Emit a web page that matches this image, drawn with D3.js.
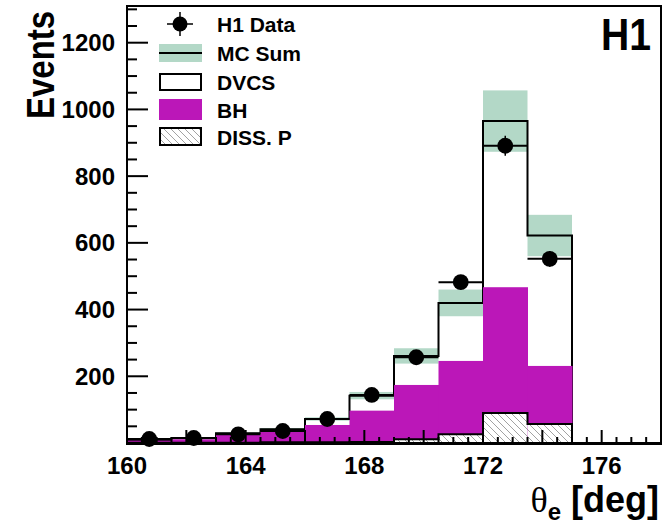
<!DOCTYPE html>
<html>
<head>
<meta charset="utf-8">
<script src="https://cdn.jsdelivr.net/npm/d3@7/dist/d3.min.js"></script>
<style>
  html, body { margin: 0; padding: 0; background: #fff; }
  svg { display: block; }
  text { font-family: "Liberation Sans", Arial, Helvetica, sans-serif; font-weight: bold; fill: #000; }
</style>
</head>
<body>
<svg id="chart" width="671" height="527"></svg>
<script>
// ---- data ----
const binLow = [160, 161.5, 163, 164.5, 166, 167.5, 169, 170.5, 172, 173.5];
const binWidth = 1.5;
const dataEvents = [12, 15, 26, 36, 72, 144, 257, 482, 891, 552];
const mcSum = [9, 14, 29, 41, 72, 142, 261, 420, 965, 622];
const mcErr = [2, 2, 3, 4, 5, 11, 23, 40, 92, 62];
const bhEvents = [7, 11, 25, 34, 54, 97, 174, 246, 467, 231];
const dissEvents = [1, 1, 1, 2, 2, 3, 11, 26, 90, 57];
const xTickLabels = [160, 164, 168, 172, 176];
const yTickLabels = [200, 400, 600, 800, 1000, 1200];
const legendLabels = ["H1 Data", "MC Sum", "DVCS", "BH", "DISS. P"];

// ---- layout ----
const svg = d3.select("#chart");
const x = d3.scaleLinear().domain([160, 178]).range([127, 661]);
const y = d3.scaleLinear().domain([0, 1310]).range([443, 6]);
const magenta = "#bb17b8";
const green = "#b3d8c7";

const defs = svg.append("defs");
const pat = defs.append("pattern").attr("id", "hatch").attr("patternUnits", "userSpaceOnUse")
  .attr("width", 7).attr("height", 7);
pat.append("rect").attr("width", 7).attr("height", 7).attr("fill", "#fff");
pat.append("path").attr("d", "M-1,-1 L8,8 M-8,-1 L1,8 M6,-1 L15,8").attr("stroke", "#8a8a8a").attr("stroke-width", 0.8);

const bins = binLow.map((lo, i) => ({lo, hi: lo + binWidth, mid: lo + binWidth / 2,
  data: dataEvents[i], mc: mcSum[i], err: mcErr[i], bh: bhEvents[i], diss: dissEvents[i]}));

function stepPath(vals) {
  let p = `M${x(binLow[0])},${y(0)}`;
  bins.forEach((b, i) => { p += ` L${x(b.lo)},${y(vals[i])} L${x(b.hi)},${y(vals[i])}`; });
  p += ` L${x(bins[bins.length - 1].hi)},${y(0)}`;
  return p;
}

// MC uncertainty band
svg.append("g").selectAll("rect").data(bins).join("rect")
  .attr("x", d => x(d.lo)).attr("width", d => x(d.hi) - x(d.lo))
  .attr("y", d => y(d.mc + d.err)).attr("height", d => y(d.mc - d.err) - y(d.mc + d.err))
  .attr("fill", green);

// MC sum / DVCS outline
svg.append("path").attr("d", stepPath(mcSum)).attr("fill", "none").attr("stroke", "#000").attr("stroke-width", 2);

// BH
svg.append("g").selectAll("rect").data(bins).join("rect")
  .attr("x", d => x(d.lo)).attr("width", d => x(d.hi) - x(d.lo) + 0.5)
  .attr("y", d => y(d.bh)).attr("height", d => y(0) - y(d.bh))
  .attr("fill", magenta);

// DISS hatched
svg.append("g").selectAll("rect").data(bins).join("rect")
  .attr("x", d => x(d.lo)).attr("width", d => x(d.hi) - x(d.lo))
  .attr("y", d => y(d.diss)).attr("height", d => y(0) - y(d.diss))
  .attr("fill", "url(#hatch)");
svg.append("path").attr("d", stepPath(dissEvents)).attr("fill", "none").attr("stroke", "#000").attr("stroke-width", 2);

// data points
const dp = svg.append("g");
dp.selectAll("line.h").data(bins).join("line").attr("class", "h")
  .attr("x1", d => x(d.lo)).attr("x2", d => x(d.hi)).attr("y1", d => y(d.data)).attr("y2", d => y(d.data))
  .attr("stroke", "#000").attr("stroke-width", 2);
dp.selectAll("line.v").data(bins).join("line").attr("class", "v")
  .attr("x1", d => x(d.mid)).attr("x2", d => x(d.mid))
  .attr("y1", d => y(d.data - Math.sqrt(d.data))).attr("y2", d => y(d.data + Math.sqrt(d.data)))
  .attr("stroke", "#000").attr("stroke-width", 1.5);
dp.selectAll("circle").data(bins).join("circle")
  .attr("cx", d => x(d.mid)).attr("cy", d => y(d.data)).attr("r", 7.9).attr("fill", "#000");

// axes (ticks inside)
const ax = svg.append("g");
const yMinor = d3.range(0, 1301, 50);
ax.selectAll("line.ym").data(yMinor).join("line").attr("class", "ym")
  .attr("x1", x(160)).attr("x2", d => x(160) + (d % 200 === 0 ? 21 : 10))
  .attr("y1", d => y(d)).attr("y2", d => y(d)).attr("stroke", "#000").attr("stroke-width", 2);
const xMinor = d3.range(160, 178.01, 0.5);
ax.selectAll("line.xm").data(xMinor).join("line").attr("class", "xm")
  .attr("x1", d => x(d)).attr("x2", d => x(d))
  .attr("y1", y(0)).attr("y2", d => y(0) - (Math.abs(d % 2) < 1e-6 ? 13 : 6))
  .attr("stroke", "#000").attr("stroke-width", 2);
// frame
svg.append("rect").attr("x", x(160)).attr("y", y(1310)).attr("width", x(178) - x(160)).attr("height", y(0) - y(1310))
  .attr("fill", "none").attr("stroke", "#000").attr("stroke-width", 2);
svg.append("line").attr("x1", x(160) - 1).attr("x2", x(178) + 1).attr("y1", y(0) + 0.5).attr("y2", y(0) + 0.5)
  .attr("stroke", "#000").attr("stroke-width", 3);

// tick labels
ax.selectAll("text.yl").data(yTickLabels).join("text").attr("class", "yl")
  .attr("x", 115).attr("y", d => y(d) + 8.5).attr("text-anchor", "end").attr("font-size", 24).text(d => d);
ax.selectAll("text.xl").data(xTickLabels).join("text").attr("class", "xl")
  .attr("x", d => x(d)).attr("y", 474).attr("text-anchor", "middle").attr("font-size", 24).text(d => d);

// axis titles
svg.append("text").attr("transform", "translate(54,119) rotate(-90) scale(1,1.15)")
  .attr("font-size", 33).text("Events");
const xt = svg.append("text").attr("x", 659).attr("y", 512).attr("text-anchor", "end").attr("font-size", 36);
xt.append("tspan").attr("font-family", "'Liberation Serif', 'DejaVu Serif', serif").attr("font-weight", "normal").text("θ");
xt.append("tspan").attr("font-size", 24).attr("dy", 8).text("e");
xt.append("tspan").attr("dy", -8).text(" [deg]");

// H1 label
svg.append("text").attr("x", 651).attr("y", 50).attr("text-anchor", "end").attr("font-size", 45)
  .attr("textLength", 50).attr("lengthAdjust", "spacingAndGlyphs").text("H1");

// legend
const lg = svg.append("g");
const rowY = [24, 53, 82, 109.5, 136.5];
const sx0 = 159, sx1 = 202;
// H1 data
lg.append("line").attr("x1", 167).attr("x2", 193).attr("y1", rowY[0]).attr("y2", rowY[0]).attr("stroke", "#000").attr("stroke-width", 1.5);
lg.append("line").attr("x1", 180).attr("x2", 180).attr("y1", rowY[0] - 12).attr("y2", rowY[0] + 12).attr("stroke", "#000").attr("stroke-width", 1.5);
lg.append("circle").attr("cx", 180).attr("cy", rowY[0]).attr("r", 7.5).attr("fill", "#000");
// MC sum
lg.append("rect").attr("x", sx0).attr("y", rowY[1] - 9).attr("width", sx1 - sx0).attr("height", 18).attr("fill", green);
lg.append("line").attr("x1", sx0).attr("x2", sx1).attr("y1", rowY[1]).attr("y2", rowY[1]).attr("stroke", "#000").attr("stroke-width", 2);
// DVCS
lg.append("rect").attr("x", sx0 + 1).attr("y", rowY[2] - 8).attr("width", sx1 - sx0 - 2).attr("height", 16)
  .attr("fill", "#fff").attr("stroke", "#000").attr("stroke-width", 2);
// BH
lg.append("rect").attr("x", sx0).attr("y", rowY[3] - 10.5).attr("width", sx1 - sx0).attr("height", 21).attr("fill", magenta);
// DISS
lg.append("rect").attr("x", sx0 + 1).attr("y", rowY[4] - 8.5).attr("width", sx1 - sx0 - 2).attr("height", 17)
  .attr("fill", "url(#hatch)").attr("stroke", "#000").attr("stroke-width", 2);
lg.selectAll("text").data(legendLabels).join("text")
  .attr("x", 217).attr("y", (d, i) => rowY[i] + 8).attr("font-size", 21).text(d => d);
</script>
</body>
</html>
